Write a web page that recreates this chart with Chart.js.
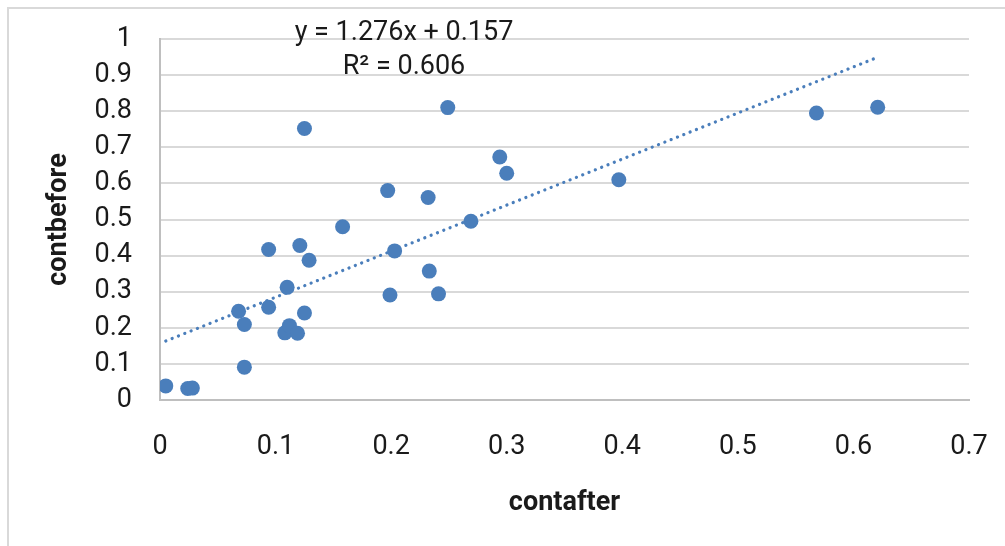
<!DOCTYPE html>
<html>
<head>
<meta charset="utf-8">
<script src="https://cdn.jsdelivr.net/npm/chart.js@4/dist/chart.umd.min.js"></script>
<style>
    body { margin: 0; background: #fff; }
    #wrap { position: relative; width: 1005px; height: 546px; overflow: hidden; }
    #frame { position: absolute; left: 7px; top: 7px; width: 1100px; height: 600px;
             border-left: 2px solid #d9d9d9; border-top: 2px solid #d9d9d9; }
    canvas { position: absolute; left: 0; top: 0; }
</style>
</head>
<body>
<div id="wrap">
    <div id="frame"></div>
    <canvas id="scatter_chart" width="1005" height="546"></canvas>
</div>
<script>
// values
const contafter  = [0.005, 0.024, 0.028, 0.073, 0.068, 0.073, 0.094, 0.094, 0.110, 0.108,
                    0.112, 0.119, 0.121, 0.129, 0.125, 0.125, 0.158, 0.197, 0.199, 0.203,
                    0.232, 0.233, 0.241, 0.249, 0.269, 0.294, 0.300, 0.397, 0.568, 0.621];
const contbefore = [0.039, 0.032, 0.033, 0.091, 0.246, 0.209, 0.417, 0.257, 0.312, 0.186,
                    0.206, 0.185, 0.428, 0.387, 0.241, 0.752, 0.480, 0.580, 0.291, 0.413,
                    0.561, 0.357, 0.294, 0.810, 0.495, 0.673, 0.628, 0.610, 0.795, 0.811];
const xTicks = [0, 0.1, 0.2, 0.3, 0.4, 0.5, 0.6, 0.7];
const yTicks = [0, 0.1, 0.2, 0.3, 0.4, 0.5, 0.6, 0.7, 0.8, 0.9, 1];
// trendline as labelled on the chart
const slope = 1.276;
const intercept = 0.157;
const r2 = 0.606;

const blue = '#4a7ebb';
const tickFont = { family: 'Roboto', size: 27 };
const titleFont = { family: 'Roboto', size: 27, weight: 'bold' };

let points = contafter.map(function (x, i) { return { x: x, y: contbefore[i] }; });
let xMin = Math.min.apply(null, contafter);
let xMax = Math.max.apply(null, contafter);
let trend = [
    { x: xMin, y: slope * xMin + intercept },
    { x: xMax, y: slope * xMax + intercept }
];

// equation text above the trendline
const equationLabel = {
    id: 'equationLabel',
    afterDraw: function (chart) {
        const ctx = chart.ctx;
        ctx.save();
        ctx.fillStyle = '#1a1a1a';
        ctx.font = '27px Roboto';
        ctx.textAlign = 'center';
        ctx.textBaseline = 'middle';
        ctx.fillText('y = ' + slope.toFixed(3) + 'x + ' + intercept.toFixed(3), 404, 33);
        ctx.fillText('R² = ' + r2.toFixed(3), 404, 67);
        ctx.restore();
    }
};

new Chart(document.getElementById('scatter_chart'), {
    type: 'scatter',
    data: {
        datasets: [
            {
                label: 'contbefore',
                data: points,
                backgroundColor: blue,
                borderColor: blue,
                pointRadius: 7.5,
                pointBorderWidth: 0,
            },
            {
                label: 'Linear',
                type: 'line',
                data: trend,
                borderColor: blue,
                borderWidth: 3.2,
                borderDash: [0.1, 6.7],
                borderCapStyle: 'round',
                pointRadius: 0,
                fill: false,
            }
        ]
    },
    options: {
        responsive: false,
        animation: false,
        events: [],
        layout: {
            padding: { top: 39, right: 36, left: 0, bottom: 0 }
        },
        plugins: {
            legend: { display: false },
            tooltip: { enabled: false },
        },
        scales: {
            x: {
                type: 'linear',
                min: 0,
                max: 0.7,
                afterBuildTicks: function (scale) {
                    scale.ticks = xTicks.map(function (v) { return { value: v }; });
                },
                afterFit: function (scale) {
                    scale.height = 146;
                    scale.paddingLeft = 0;
                    scale.paddingRight = 0;
                },
                grid: { display: false, drawTicks: false },
                border: { display: true, color: '#bfbfbf', width: 2 },
                ticks: {
                    font: tickFont,
                    color: '#1a1a1a',
                    padding: 31,
                    maxRotation: 0,
                    callback: function (v) { return String(v); }
                },
                title: {
                    display: true,
                    text: 'contafter',
                    font: titleFont,
                    color: '#1a1a1a',
                    padding: { top: 0, bottom: 27 }
                }
            },
            y: {
                type: 'linear',
                min: 0,
                max: 1,
                afterBuildTicks: function (scale) {
                    scale.ticks = yTicks.map(function (v) { return { value: v }; });
                },
                afterFit: function (scale) {
                    scale.width = 160;
                    scale.paddingTop = 0;
                    scale.paddingBottom = 0;
                },
                grid: { color: '#d9d9d9', lineWidth: 2, drawTicks: false },
                border: { display: true, color: '#bfbfbf', width: 2 },
                ticks: {
                    font: tickFont,
                    color: '#1a1a1a',
                    padding: 28,
                    callback: function (v) { return String(v); }
                },
                title: {
                    display: true,
                    text: 'contbefore',
                    font: titleFont,
                    color: '#1a1a1a',
                    padding: { top: 43, bottom: 0 }
                }
            }
        }
    },
    plugins: [equationLabel]
});
</script>
</body>
</html>
